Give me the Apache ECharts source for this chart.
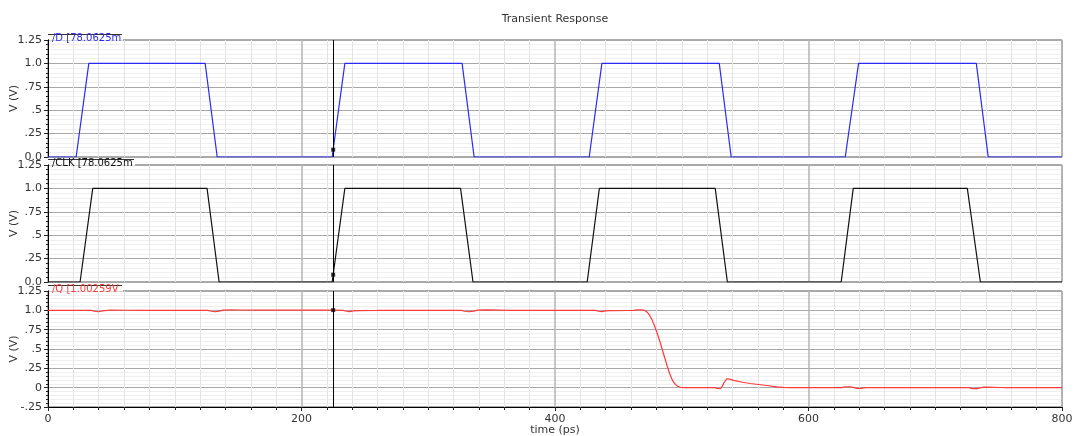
<!DOCTYPE html>
<html>
<head>
<meta charset="utf-8">
<title>Transient Response</title>
<script src="https://cdn.jsdelivr.net/npm/echarts@6/dist/echarts.min.js"></script>
<style>
  html, body { margin: 0; padding: 0; background: #fff; }
  #chart { width: 1075px; height: 436px; }
</style>
</head>
<body>
<div id="chart"></div>
<script>
// Waveforms as [time (ps), voltage (V)] pairs
const dWave = [
  [0, 0], [22.2, 0], [32.2, 1], [124, 1], [133.5, 0],
  [224.2, 0], [234.2, 1], [326.7, 1], [336.2, 0],
  [427, 0], [437, 1], [529.6, 1], [539, 0],
  [629, 0], [639.5, 1], [732.4, 1], [741.8, 0], [800, 0]
];
const clkWave = [
  [0, 0], [25.3, 0], [35.3, 1], [125.5, 1], [135, 0],
  [224.2, 0], [234.2, 1], [325.5, 1], [335.3, 0],
  [425.4, 0], [435, 1], [526.4, 1], [536, 0],
  [625.8, 0], [635.3, 1], [725.3, 1], [735.6, 0], [800, 0]
];
const qWave = [
  [0, 1.0], [34, 1.0], [36.5, 0.988], [39.5, 0.982], [42, 0.988], [44.5, 0.996], [50, 1.002], [62, 1.001], [72, 1.0],
  [126, 1.0], [129, 0.988], [132, 0.982], [135, 0.99], [138, 1.003], [144, 1.005], [152, 1.004], [165, 1.003],
  [225, 1.00259], [233, 1.0], [235.5, 0.988], [238, 0.983], [241, 0.992], [244, 0.997], [258, 0.998], [262, 1.0],
  [326, 1.0], [329, 0.988], [332, 0.982], [336, 0.99], [339, 1.003], [346, 1.005], [356, 1.003], [364, 1.0],
  [432, 1.0], [434.5, 0.988], [437, 0.983], [440, 0.992], [443, 0.997], [458, 0.998], [462, 1.0], [465, 1.006], [468.5, 1.006],
  [470.5, 1.0], [472.5, 0.98], [474.5, 0.94], [476.5, 0.88], [478.5, 0.8], [480.5, 0.71], [482.5, 0.61],
  [484.5, 0.5], [486.5, 0.39], [488.5, 0.28], [490.5, 0.18], [492.5, 0.1], [494.5, 0.05], [496.5, 0.02], [499, 0.005], [503, 0.0],
  [526, 0.0], [528, -0.01], [530.5, -0.014], [532, 0.02], [533.5, 0.07], [535.5, 0.115], [537.5, 0.11], [541, 0.095], [548, 0.07], [554, 0.054],
  [567, 0.028], [575, 0.011], [580, 0.003], [586, 0.0],
  [626, 0.0], [629, 0.01], [633, 0.01], [636, 0.0], [638, -0.01], [642, -0.01], [645, 0.0],
  [727, 0.0], [729, -0.012], [733, -0.012], [736, 0.0], [739, 0.006], [745, 0.005], [752, 0.002], [756, 0.0], [800, 0.0]
];

// Cursor readout
const cursorTime = 225;
const cursorD = 0.0780625;
const cursorClk = 0.0780625;
const cursorQ = 1.00259;

// Axis ticks and their printed labels
const vTicks = [0, 0.25, 0.5, 0.75, 1, 1.25];
const vTickLabels = ['0.0', '.25', '.5', '.75', '1.0', '1.25'];
const qTicks = [-0.25, 0, 0.25, 0.5, 0.75, 1, 1.25];
const qTickLabels = ['-.25', '0', '.25', '.5', '.75', '1.0', '1.25'];
const timeTicks = [0, 200, 400, 600, 800];
const timeTickLabels = ['0', '200', '400', '600', '800'];

const FONT = 'DejaVu Sans';
const colD = '#2a2af2';
const colClk = '#111111';
const colQ = '#ff3a3a';

function lookup(ticks, labels) {
  return function (v) {
    const i = ticks.findIndex(t => Math.abs(t - v) < 1e-9);
    return i < 0 ? '' : labels[i];
  };
}

const grids = [
  { left: 48, right: 13, top: 40, height: 117 },
  { left: 48, right: 13, top: 165, height: 117 },
  { left: 48, right: 13, top: 291, height: 116 }
];

function xAxisFor(idx, bottom) {
  return {
    type: 'value', gridIndex: idx, min: 0, max: 800, interval: 200,
    axisLine: { show: bottom, onZero: false, lineStyle: { color: '#000', width: 1 } },
    axisTick: { show: bottom, length: 4, lineStyle: { color: '#222' } },
    minorTick: { show: bottom, splitNumber: 10, length: 3, lineStyle: { color: '#222' } },
    axisLabel: {
      show: bottom, margin: 7, color: '#333', fontFamily: FONT, fontSize: 11,
      formatter: lookup(timeTicks, timeTickLabels)
    },
    splitLine: { show: true, lineStyle: { color: '#b4b4b4', width: 1.5 } },
    minorSplitLine: { show: true, lineStyle: { color: '#e4e4e4', width: 1 } },
    name: bottom ? 'time (ps)' : '',
    nameLocation: 'middle', nameGap: 18, nameMoveOverlap: false,
    nameTextStyle: { color: '#333', fontFamily: FONT, fontSize: 11 }
  };
}

function yAxisFor(idx, min, ticks, labels) {
  return {
    type: 'value', gridIndex: idx, min: min, max: 1.25, interval: 0.25,
    axisLine: { show: true, onZero: false, lineStyle: { color: '#000', width: 1 } },
    axisTick: { show: true, length: 4, lineStyle: { color: '#222' } },
    minorTick: { show: true, splitNumber: 5, length: 2, lineStyle: { color: '#222' } },
    axisLabel: {
      margin: 6, color: '#333', fontFamily: FONT, fontSize: 11,
      formatter: lookup(ticks, labels)
    },
    splitLine: { show: true, lineStyle: { color: '#a8a8a8', width: 1 } },
    minorSplitLine: { show: true, lineStyle: { color: '#efefef', width: 1 } },
    name: 'V (V)', nameLocation: 'middle', nameGap: 28, nameMoveOverlap: false,
    nameTextStyle: { color: '#333', fontFamily: FONT, fontSize: 11 }
  };
}

const cursorLine = {
  silent: true, symbol: 'none', animation: false,
  label: { show: false },
  lineStyle: { color: '#000', width: 1, type: 'solid' },
  data: [{ xAxis: cursorTime }]
};

function waveSeries(idx, data, color) {
  return {
    type: 'line', xAxisIndex: idx, yAxisIndex: idx, data: data,
    showSymbol: false, symbol: 'none', smooth: false,
    lineStyle: { color: color, width: 1.2 }, z: 3,
    markLine: cursorLine
  };
}

function markerSeries(idx, value) {
  return {
    type: 'scatter', xAxisIndex: idx, yAxisIndex: idx,
    data: [[cursorTime, value]], symbol: 'rect', symbolSize: 4,
    itemStyle: { color: '#000' }, z: 5, silent: true
  };
}

// Readout tags at the top-left corner of each panel
function tag(x, y, w, text, color) {
  return [
    { type: 'rect', shape: { x: x + 1, y: y, width: w, height: 6.5 }, style: { fill: '#fff' }, z: 100 },
    { type: 'line', shape: { x1: x, y1: y + 0.5, x2: x + w, y2: y + 0.5 }, style: { stroke: '#333', lineWidth: 1 }, z: 101 },
    { type: 'text', x: x + 4, y: y + 4.5, style: { text: text, fill: color, font: '10px "' + FONT + '"', verticalAlign: 'middle', align: 'left' }, z: 102 }
  ];
}

const dTag = '/D [' + (cursorD * 1000).toFixed(4) + 'm';
const clkTag = '/CLK [' + (cursorClk * 1000).toFixed(4) + 'm';
const qTag = '/Q [' + cursorQ.toFixed(5) + 'V';

const chart = echarts.init(document.getElementById('chart'), null, { renderer: 'canvas' });
chart.setOption({
  animation: false,
  backgroundColor: '#fff',
  title: {
    text: 'Transient Response', left: 550, top: 9, textAlign: 'center',
    textStyle: { color: '#333', fontFamily: FONT, fontSize: 11, fontWeight: 'normal' }
  },
  grid: grids.map(g => Object.assign({
    show: true, borderColor: '#555', borderWidth: 1, backgroundColor: '#fff',
    containLabel: false, outerBoundsMode: 'none'
  }, g)),
  xAxis: [xAxisFor(0, false), xAxisFor(1, false), xAxisFor(2, true)],
  yAxis: [
    yAxisFor(0, 0, vTicks, vTickLabels),
    yAxisFor(1, 0, vTicks, vTickLabels),
    yAxisFor(2, -0.25, qTicks, qTickLabels)
  ],
  series: [
    waveSeries(0, dWave, colD),
    waveSeries(1, clkWave, colClk),
    waveSeries(2, qWave, colQ),
    markerSeries(0, cursorD),
    markerSeries(1, cursorClk),
    markerSeries(2, cursorQ)
  ],
  graphic: [].concat(
    tag(48, 34, 74, dTag, colD),
    tag(48, 159, 86, clkTag, colClk),
    tag(48, 285, 74, qTag, colQ)
  )
});
</script>
</body>
</html>
